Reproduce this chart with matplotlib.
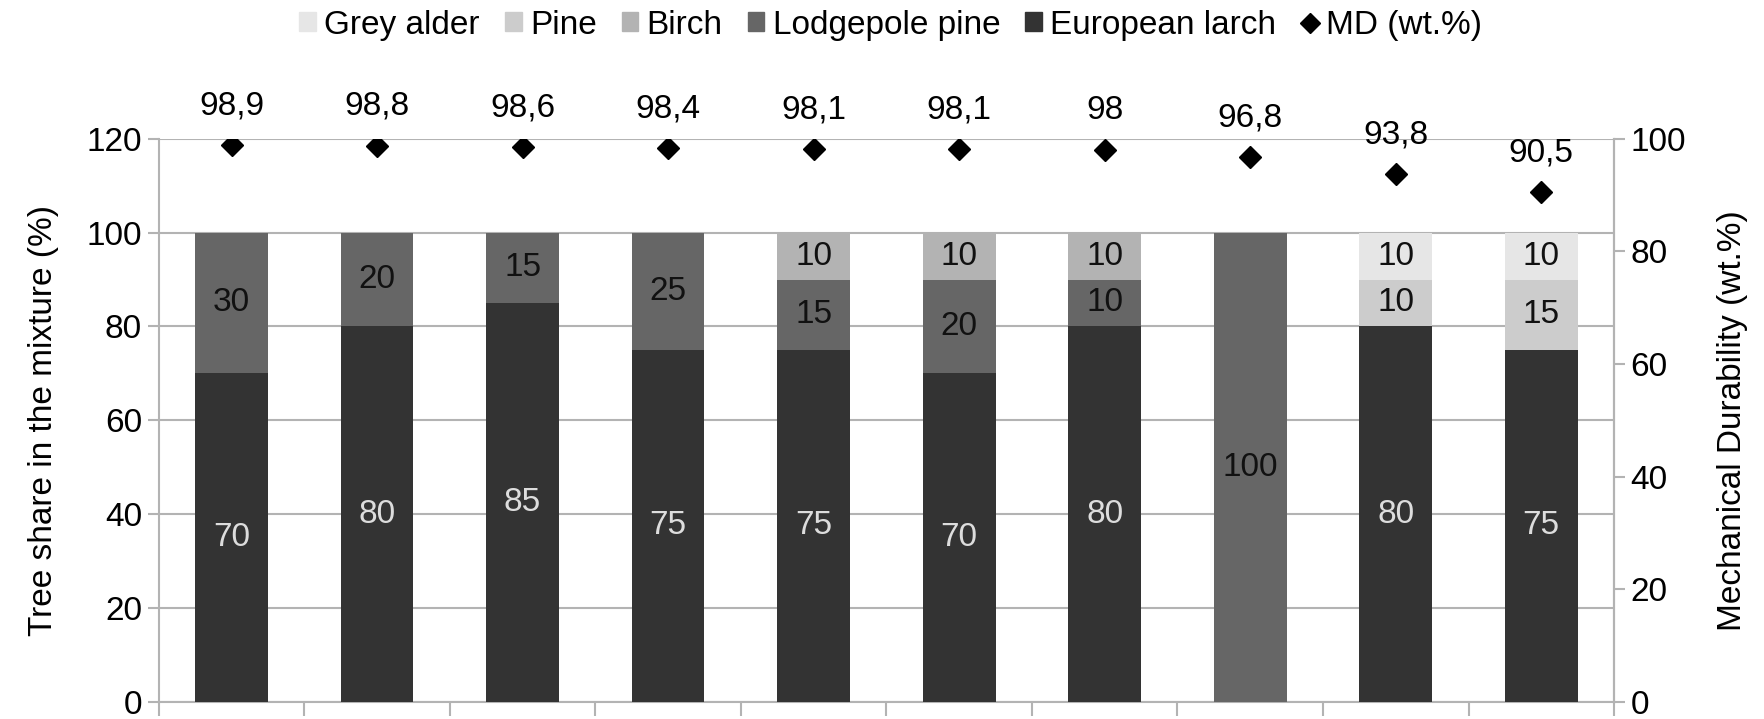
import matplotlib
matplotlib.use("Agg")
import matplotlib.pyplot as plt
import numpy as np
from matplotlib.lines import Line2D
from matplotlib.patches import Patch

plt.rcParams['font.family'] = ['Liberation Sans', 'DejaVu Sans']

# data
larch = [70, 80, 85, 75, 75, 70, 80, 0, 80, 75]
lodgepole = [30, 20, 15, 25, 15, 20, 10, 100, 0, 0]
birch = [0, 0, 0, 0, 10, 10, 10, 0, 0, 0]
pine = [0, 0, 0, 0, 0, 0, 0, 0, 10, 15]
alder = [0, 0, 0, 0, 0, 0, 0, 0, 10, 10]
md = [98.9, 98.8, 98.6, 98.4, 98.1, 98.1, 98, 96.8, 93.8, 90.5]

series = [
    ("European larch", larch, "#333333", "#dddddd"),
    ("Lodgepole pine", lodgepole, "#666666", "#111111"),
    ("Birch", birch, "#b3b3b3", "#111111"),
    ("Pine", pine, "#cccccc", "#111111"),
    ("Grey alder", alder, "#e6e6e6", "#111111"),
]

fs = 24
fig = plt.figure(figsize=(17.64, 7.19), dpi=100)
ax = fig.add_axes([0.090, 0.024, 0.825, 0.783])
x = np.arange(len(md))
grid_c = "#b3b3b3"

bottom = np.zeros(len(md))
for name, vals, col, tcol in series:
    vals = np.array(vals, dtype=float)
    ax.bar(x, vals, 0.5, bottom=bottom, color=col, zorder=3)
    for i, v in enumerate(vals):
        if v > 0:
            ax.text(x[i], bottom[i] + v / 2, f"{int(v)}", ha="center", va="center",
                    fontsize=fs, color=tcol, zorder=5)
    bottom += vals

ax.set_xlim(-0.5, len(md) - 0.5)
ax.set_ylim(0, 120)
ax.set_yticks(range(0, 121, 20))
ax.yaxis.grid(True, color=grid_c, linewidth=1.5, zorder=0)
ax.set_xticks(np.arange(-0.5, len(md), 1.0))
ax.set_xticklabels([])
ax.tick_params(axis="x", length=10, color=grid_c, width=1.5)
ax.tick_params(axis="y", length=8, color=grid_c, width=1.5, labelsize=fs, pad=4)
ax.spines["top"].set_visible(False)
for s in ["left", "right", "bottom"]:
    ax.spines[s].set_color(grid_c)
    ax.spines[s].set_linewidth(1.5)
ax.set_ylabel("Tree share in the mixture (%)", fontsize=fs, labelpad=20)

ax2 = ax.twinx()
ax2.set_ylim(0, 100)
ax2.set_yticks(range(0, 101, 20))
ax2.plot(x, md, linestyle="none", marker="D", markersize=11, color="black", zorder=6)
for i, v in enumerate(md):
    lab = f"{v:g}".replace(".", ",")
    ax2.annotate(lab, (x[i], v), xytext=(0, 17), textcoords="offset points",
                 ha="center", va="bottom", fontsize=fs)
ax2.tick_params(axis="y", length=8, color=grid_c, width=1.5, labelsize=fs, pad=4)
for s in ["top", "left", "bottom"]:
    ax2.spines[s].set_visible(False)
ax2.spines["right"].set_color(grid_c)
ax2.spines["right"].set_linewidth(1.5)
ax2.set_ylabel("Mechanical Durability (wt.%)", fontsize=fs, labelpad=22)

handles = [Patch(color=c) for _, _, c, _ in series[::-1]]
labels = [n for n, _, _, _ in series[::-1]]
handles.append(Line2D([], [], linestyle="none", marker="D", color="black", markersize=10))
labels.append("MD (wt.%)")
fig.legend(handles, labels, loc="center", bbox_to_anchor=(0.505, 0.965), ncol=6,
           frameon=False, fontsize=fs, handlelength=0.5, handleheight=0.5,
           handletextpad=0.25, columnspacing=0.75)

fig.savefig("out.png", dpi=100)
